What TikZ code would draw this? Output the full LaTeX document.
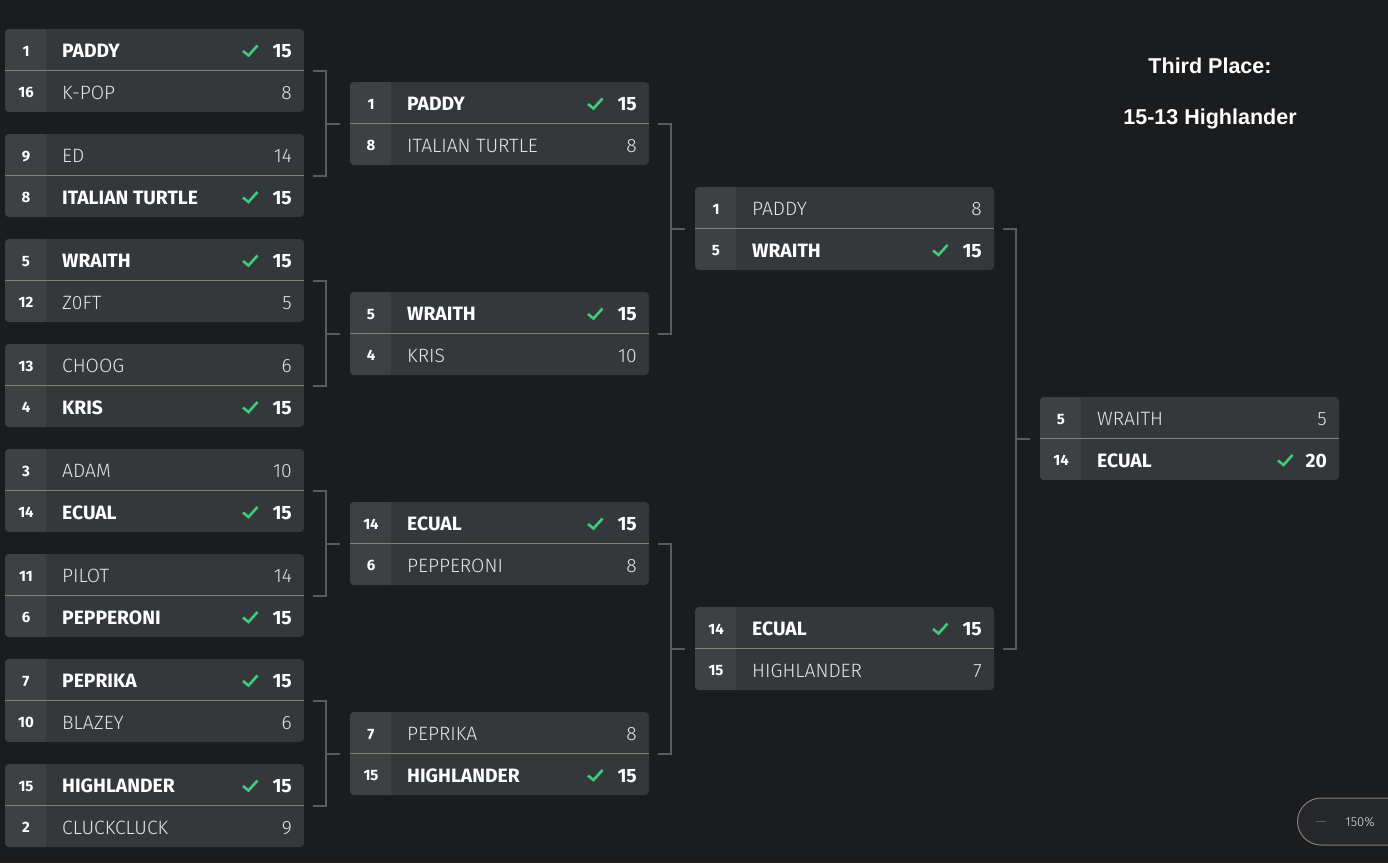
\documentclass[tikz,border=0pt]{standalone}
\usepackage{fontspec}
\setmainfont{Fira Sans}
\newfontfamily\lightfont{Fira Sans Light}
\newfontfamily\titlefont{Liberation Sans}
\usetikzlibrary{calc}
\definecolor{bg}{HTML}{1B1C1E}
\definecolor{boxfill}{HTML}{35383B}
\definecolor{seedfill}{HTML}{3E4144}
\definecolor{divcol}{HTML}{867E72}
\definecolor{conn}{HTML}{585B5F}
\definecolor{checkgreen}{HTML}{3DCC7D}
\definecolor{losertext}{HTML}{E4E4E4}
\definecolor{pillfill}{HTML}{25272A}
\tikzset{
  matchbox/.style={draw=none, fill=boxfill, rounded corners=4pt, minimum width=299pt, minimum height=83pt, anchor=north west, inner sep=0pt, outer sep=0pt},
  seedtxt/.style={font=\bfseries\fontsize{15}{15}\selectfont, text=white, inner sep=0pt, text height=10.5pt, text depth=0pt, anchor=center},
  wintxt/.style={font=\bfseries\fontsize{19.3}{19.3}\selectfont, text=white, inner sep=0pt, text height=13pt, text depth=0pt},
  losetxt/.style={font=\lightfont\fontsize{19.3}{19.3}\selectfont, text=losertext, inner sep=0pt, text height=13pt, text depth=0pt},
  dividerline/.style={draw=divcol, line width=1.6pt},
  connector/.style={draw=conn, line width=2pt},
  checkstroke/.style={draw=checkgreen, line width=2.6pt},
  titletxt/.style={font=\titlefont\bfseries\fontsize{21.5}{21.5}\selectfont, text=white, inner sep=0pt},
}
\newcommand\bmatch[3]{%
  \def\bx{#2}\def\by{#3}\def\bn{#1}%
  \node[matchbox] (#1) at (#2,#3) {};
  \begin{scope}
    \clip[rounded corners=4pt] (#2,#3) rectangle ++(299,83);
    \fill[seedfill] (#2,#3) rectangle ++(41,83);
  \end{scope}
  \draw[dividerline] (#2,#3+41.5) -- (#2+299,#3+41.5);
}
\newcommand\brow[5]{%
  \ifnum#1=1 \pgfmathsetmacro\ry{\by+22}\else\pgfmathsetmacro\ry{\by+63.5}\fi
  \ifnum#5=1 \tikzset{rowtxt/.style={wintxt}}\else\tikzset{rowtxt/.style={losetxt}}\fi
  \node[seedtxt] (\bn-s#1) at (\bx+21,\ry) {#2};
  \node[rowtxt, anchor=west] (\bn-t#1) at (\bx+57,\ry) {#3};
  \node[rowtxt, anchor=east] (\bn-p#1) at (\bx+287,\ry) {#4};
  \ifnum#5=1 \draw[checkstroke] (\bx+238,\ry) -- (\bx+243.5,\ry+4.5) -- (\bx+252.5,\ry-5.5);\fi
}
% bracket: two feeder matches #1,#2 into #3
\newcommand\bracket[3]{%
  \draw[connector] ($(#1.east)+(9,0)$) -- ($(#1.east)+(22,0)$) -- ($(#2.east)+(22,0)$) -- ($(#2.east)+(9,0)$);
  \draw[connector] ($(#3.west)+(-24,0)$) -- ($(#3.west)+(-10,0)$);
}
\begin{document}
\begin{tikzpicture}[x=1pt,y=-1pt]
\path[use as bounding box, fill=bg] (0,0) rectangle (1388,863);

% Round 1
\bmatch{m1}{5}{29}
\brow{1}{1}{PADDY}{15}{1}
\brow{2}{16}{K-POP}{8}{0}
\bmatch{m2}{5}{134}
\brow{1}{9}{ED}{14}{0}
\brow{2}{8}{ITALIAN TURTLE}{15}{1}
\bmatch{m3}{5}{239}
\brow{1}{5}{WRAITH}{15}{1}
\brow{2}{12}{Z0FT}{5}{0}
\bmatch{m4}{5}{344}
\brow{1}{13}{CHOOG}{6}{0}
\brow{2}{4}{KRIS}{15}{1}
\bmatch{m5}{5}{449}
\brow{1}{3}{ADAM}{10}{0}
\brow{2}{14}{ECUAL}{15}{1}
\bmatch{m6}{5}{554}
\brow{1}{11}{PILOT}{14}{0}
\brow{2}{6}{PEPPERONI}{15}{1}
\bmatch{m7}{5}{659}
\brow{1}{7}{PEPRIKA}{15}{1}
\brow{2}{10}{BLAZEY}{6}{0}
\bmatch{m8}{5}{764}
\brow{1}{15}{HIGHLANDER}{15}{1}
\brow{2}{2}{CLUCKCLUCK}{9}{0}

% Round 2
\bmatch{q1}{350}{82}
\brow{1}{1}{PADDY}{15}{1}
\brow{2}{8}{ITALIAN TURTLE}{8}{0}
\bmatch{q2}{350}{292}
\brow{1}{5}{WRAITH}{15}{1}
\brow{2}{4}{KRIS}{10}{0}
\bmatch{q3}{350}{502}
\brow{1}{14}{ECUAL}{15}{1}
\brow{2}{6}{PEPPERONI}{8}{0}
\bmatch{q4}{350}{712}
\brow{1}{7}{PEPRIKA}{8}{0}
\brow{2}{15}{HIGHLANDER}{15}{1}

% Round 3
\bmatch{s1}{695}{187}
\brow{1}{1}{PADDY}{8}{0}
\brow{2}{5}{WRAITH}{15}{1}
\bmatch{s2}{695}{607}
\brow{1}{14}{ECUAL}{15}{1}
\brow{2}{15}{HIGHLANDER}{7}{0}

% Final
\bmatch{f1}{1040}{397}
\brow{1}{5}{WRAITH}{5}{0}
\brow{2}{14}{ECUAL}{20}{1}

% Connectors
\bracket{m1}{m2}{q1}
\bracket{m3}{m4}{q2}
\bracket{m5}{m6}{q3}
\bracket{m7}{m8}{q4}
\bracket{q1}{q2}{s1}
\bracket{q3}{q4}{s2}
\bracket{s1}{s2}{f1}

% Third place
\node[titletxt] (third) at (1210,66) {Third Place:};
\node[titletxt] (thirdscore) at (1210,119) {15-13 Highlander};

% Zoom control
\begin{scope}
  \clip (0,0) rectangle (1388,863);
  \node[draw=divcol, fill=pillfill, line width=1pt, rounded corners=23.5pt, minimum width=140pt, minimum height=47pt, anchor=west, inner sep=0pt] (zoompill) at (1297,821.5) {};
\end{scope}
\draw[draw=conn, line width=1.5pt] ($(zoompill.west)+(19,0)$) -- ($(zoompill.west)+(29,0)$);
\node[font=\lightfont\fontsize{13}{13}\selectfont, text=losertext, inner sep=0pt] (zoomlabel) at (1360,822) {150\%};
\end{tikzpicture}
\end{document}
